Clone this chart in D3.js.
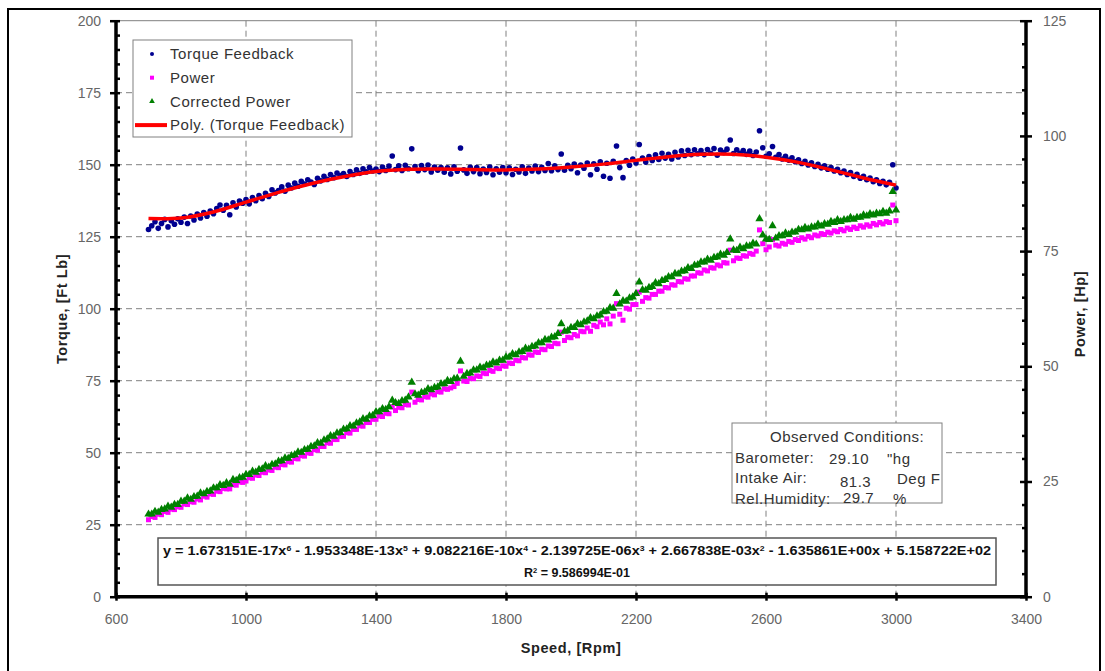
<!DOCTYPE html>
<html>
<head>
  <meta charset="utf-8">
  <title>Torque and Power vs Speed</title>
  <style>
    body { margin: 0; background: #fff; }
    svg { font-family: "Liberation Sans", Arial, sans-serif; }
  </style>
</head>
<body>
  <svg width="1105" height="671"></svg>
  <script src="https://d3js.org/d3.v7.min.js"></script>
  <script>
    var speedTicks = [600, 1000, 1400, 1800, 2200, 2600, 3000, 3400];
    var torqueTicks = [0, 25, 50, 75, 100, 125, 150, 175, 200];
    var powerTicks = [0, 25, 50, 75, 100, 125];

    var torque = [
      127.5, 128.8, 130.2, 127.9, 129.6, 131.0, 128.4, 130.5, 129.3, 131.2,
      130.0, 131.8, 129.6, 132.2, 130.8, 132.9, 131.5, 133.4, 132.1, 133.9,
      133.0, 134.8, 136.0, 134.2, 135.9, 132.6, 136.8, 135.3, 137.4, 136.6,
      137.9, 136.4, 138.6, 137.5, 139.3, 138.2, 140.1, 139.0, 141.3, 140.2,
      141.0, 142.3, 140.8, 142.9, 141.9, 143.6, 142.5, 144.2, 143.3, 144.8,
      144.0, 143.1, 145.3, 144.4, 146.0, 144.9, 146.6, 145.5, 147.1, 146.2,
      146.9, 145.9, 147.6, 146.6, 148.2, 147.0, 148.6, 147.5, 149.0, 147.8,
      148.5, 147.6, 149.2, 148.0, 149.5, 153.0, 148.3, 149.6, 148.0, 149.8,
      148.6, 155.5, 149.4, 147.9, 149.7, 148.3, 149.9, 147.5, 149.2, 148.1,
      149.0, 147.4, 148.9, 146.8, 149.3, 147.7, 155.8, 148.2, 147.0, 149.1,
      147.6, 149.0, 146.9, 148.5, 147.3, 149.2, 146.5, 148.6, 147.4, 149.0,
      147.2, 148.9, 146.6, 148.4, 147.5, 149.3, 147.0, 148.8, 147.8, 149.5,
      147.6, 149.1, 148.0, 150.4, 147.9, 149.6, 148.3, 153.7, 148.1, 149.8,
      148.6, 150.2, 147.2, 149.9, 148.8, 150.6, 146.5, 150.3, 148.4, 151.0,
      146.0, 150.5, 145.3, 151.2, 156.5, 149.0, 145.5, 151.4, 149.8, 152.0,
      150.6, 157.0, 152.3, 150.9, 152.8, 151.5, 153.4, 151.8, 154.0, 152.3,
      153.6, 152.0, 154.3, 152.7, 154.8, 153.2, 155.0, 153.5, 155.2, 153.8,
      154.9, 153.5, 155.3, 154.0, 155.6, 153.3, 155.1, 154.2, 155.4, 158.6,
      153.9, 155.2, 154.0, 154.9, 153.6, 154.7, 153.2, 154.4, 161.8, 155.9,
      152.9, 153.8, 156.3, 152.6, 153.5, 152.0, 152.9, 151.6, 152.4, 151.0,
      151.7, 150.4, 151.2, 149.9, 150.7, 149.4, 150.1, 148.9, 149.6, 148.4,
      149.0, 147.8, 148.4, 147.2, 147.8, 146.6, 147.3, 145.9, 146.7, 145.3,
      146.0, 144.8, 145.4, 144.1, 144.8, 143.5, 144.2, 143.0, 143.9, 150.0,
      141.9
    ];

    var power = [
      16.7, 17.4, 17.2, 17.9, 17.8, 18.5, 18.3, 19.0, 18.9, 19.5,
      19.4, 20.1, 20.0, 20.6, 20.5, 21.2, 21.0, 21.8, 21.6, 22.3,
      22.2, 22.9, 22.8, 23.5, 23.4, 23.4, 24.3, 24.2, 24.9, 24.8,
      25.1, 25.8, 25.7, 26.4, 26.3, 27.0, 26.9, 27.5, 27.4, 28.1,
      28.0, 28.7, 28.6, 29.3, 29.2, 30.0, 29.9, 30.6, 30.5, 31.2,
      31.1, 31.9, 31.8, 32.6, 32.6, 33.4, 33.3, 34.1, 34.1, 34.8,
      34.8, 35.6, 35.5, 36.3, 36.3, 37.1, 37.0, 37.8, 37.8, 38.5,
      38.5, 39.2, 39.1, 39.8, 39.7, 41.2, 40.4, 41.1, 41.0, 41.7,
      41.6, 44.4, 42.2, 42.8, 42.7, 43.4, 43.3, 44.0, 43.8, 44.5,
      44.4, 45.1, 45.0, 45.3, 45.6, 46.3, 49.0, 46.8, 46.7, 47.4,
      47.3, 47.9, 47.8, 48.5, 48.4, 49.1, 48.9, 49.6, 49.5, 50.1,
      50.0, 50.7, 50.6, 51.3, 51.2, 51.9, 51.8, 52.5, 52.4, 53.1,
      53.0, 53.7, 53.6, 54.4, 54.3, 55.0, 54.9, 57.4, 55.6, 56.3,
      56.2, 56.9, 56.6, 57.6, 57.5, 58.3, 57.6, 58.9, 58.6, 59.6,
      59.0, 60.3, 59.2, 60.9, 63.6, 61.3, 60.0, 62.6, 62.4, 63.4,
      63.4, 66.1, 64.1, 64.9, 64.8, 65.6, 65.6, 66.3, 66.3, 67.1,
      67.0, 67.7, 67.6, 68.4, 68.3, 69.0, 68.9, 69.6, 69.6, 70.3,
      70.2, 70.9, 70.7, 71.4, 71.3, 72.0, 71.8, 72.5, 72.4, 75.2,
      72.9, 73.5, 73.4, 74.0, 73.9, 74.5, 74.3, 75.0, 79.6, 76.6,
      75.3, 75.9, 77.5, 76.3, 76.1, 76.7, 76.5, 77.1, 76.9, 77.5,
      77.3, 77.9, 77.6, 78.2, 77.9, 78.5, 78.3, 78.8, 78.6, 79.1,
      78.9, 79.4, 79.2, 79.7, 79.4, 80.0, 79.7, 80.2, 79.9, 80.5,
      80.2, 80.7, 80.4, 81.0, 80.7, 81.2, 80.9, 81.4, 81.2, 85.0,
      81.6
    ];

    var correctedPower = [
      17.9, 17.9, 18.5, 18.3, 18.9, 19.0, 19.6, 19.4, 20.0, 20.0,
      20.7, 20.7, 21.4, 21.1, 21.7, 21.8, 22.5, 22.3, 22.8, 22.9,
      23.6, 23.6, 24.3, 24.1, 24.7, 24.4, 25.4, 25.2, 25.8, 25.9,
      26.5, 26.5, 27.2, 27.0, 27.6, 27.7, 28.4, 28.1, 28.7, 28.8,
      29.4, 29.5, 30.1, 30.0, 30.6, 30.8, 31.4, 31.3, 31.9, 32.0,
      32.6, 32.7, 33.4, 33.3, 34.0, 34.2, 34.9, 34.8, 35.5, 35.6,
      36.3, 36.4, 37.1, 37.0, 37.7, 37.9, 38.6, 38.5, 39.2, 39.3,
      40.1, 40.1, 40.8, 40.6, 41.2, 42.6, 42.1, 41.9, 42.5, 42.6,
      43.3, 46.5, 44.0, 43.7, 44.3, 44.4, 45.1, 44.9, 45.4, 45.5,
      46.2, 46.2, 46.9, 46.7, 47.3, 47.4, 51.1, 47.8, 48.4, 48.5,
      49.2, 49.2, 49.8, 49.6, 50.2, 50.3, 50.9, 50.7, 51.3, 51.3,
      52.0, 52.0, 52.7, 52.5, 53.1, 53.2, 53.9, 53.7, 54.3, 54.4,
      55.1, 55.1, 55.8, 55.7, 56.3, 56.4, 57.1, 59.2, 57.6, 57.7,
      58.4, 58.4, 59.2, 59.0, 59.6, 59.8, 60.5, 60.3, 60.9, 61.1,
      61.8, 61.9, 62.7, 62.6, 65.8, 63.5, 64.2, 64.1, 64.8, 65.0,
      65.8, 68.3, 66.6, 66.5, 67.1, 67.3, 68.1, 67.9, 68.6, 68.8,
      69.4, 69.4, 70.1, 70.0, 70.6, 70.7, 71.4, 71.2, 71.9, 72.0,
      72.6, 72.6, 73.2, 73.0, 73.6, 73.7, 74.3, 74.1, 74.7, 77.6,
      75.2, 75.1, 75.8, 75.5, 76.1, 76.1, 76.7, 76.5, 82.0, 78.5,
      77.6, 77.5, 80.5, 77.8, 78.3, 78.3, 78.9, 78.6, 79.1, 79.1,
      79.7, 79.6, 80.1, 79.8, 80.2, 80.2, 80.8, 80.4, 80.9, 80.8,
      81.4, 81.2, 81.8, 81.4, 81.8, 81.8, 82.3, 81.9, 82.3, 82.3,
      82.8, 82.6, 83.1, 82.8, 83.2, 83.1, 83.6, 83.2, 83.7, 87.9,
      83.9
    ];

    // polynomial trend line as it sits on the chart, every 100 rpm
    var trendSpeed = [700, 800, 900, 1000, 1100, 1200, 1300, 1400, 1500, 1600, 1700, 1800,
      1900, 2000, 2100, 2200, 2300, 2400, 2500, 2600, 2700, 2800, 2900, 3000];
    var trendTorque = [131.3, 131.5, 133.6, 137.0, 140.4, 143.4, 145.8, 147.6, 148.4, 148.5, 148.3, 148.2,
      148.5, 149.2, 150.2, 151.5, 152.8, 153.6, 153.6, 152.6, 150.8, 148.2, 145.4, 142.9];

    var legendItems = ["Torque Feedback", "Power", "Corrected Power", "Poly. (Torque Feedback)"];

    var speeds = d3.range(700, 3001, 10);

    var svg = d3.select("svg");

    var x = d3.scaleLinear().domain([600, 3400]).range([116, 1026]);
    var yT = d3.scaleLinear().domain([0, 200]).range([596.7, 20.7]);
    var yP = d3.scaleLinear().domain([0, 125]).range([596.7, 20.7]);

    // outer frame
    svg.append("rect")
      .attr("x", 8).attr("y", 9)
      .attr("width", 1092).attr("height", 680)
      .attr("fill", "none")
      .attr("stroke", "#000")
      .attr("stroke-width", 2);

    // grid
    var grid = svg.append("g");
    grid.selectAll(".hg")
      .data(torqueTicks.slice(1, -1))
      .enter().append("line")
      .attr("x1", x(600)).attr("x2", x(3400))
      .attr("y1", function (d) { return yT(d); })
      .attr("y2", function (d) { return yT(d); })
      .attr("stroke", "#808080")
      .attr("stroke-dasharray", "6,4");
    grid.selectAll(".vg")
      .data(speedTicks.slice(1, -1))
      .enter().append("line")
      .attr("y1", yT(200)).attr("y2", yT(0))
      .attr("x1", function (d) { return x(d); })
      .attr("x2", function (d) { return x(d); })
      .attr("stroke", "#808080")
      .attr("stroke-dasharray", "6,4");
    grid.append("line")
      .attr("x1", x(600)).attr("x2", x(3400))
      .attr("y1", yT(200)).attr("y2", yT(200))
      .attr("stroke", "#808080");

    // series
    var pts = svg.append("g");
    pts.selectAll(".tq")
      .data(torque)
      .enter().append("circle")
      .attr("cx", function (d, i) { return x(speeds[i]); })
      .attr("cy", function (d) { return yT(d); })
      .attr("r", 2.8)
      .attr("fill", "#000090");

    pts.selectAll(".pw")
      .data(power)
      .enter().append("rect")
      .attr("x", function (d, i) { return x(speeds[i]) - 2.5; })
      .attr("y", function (d) { return yP(d) - 2.5; })
      .attr("width", 5).attr("height", 5)
      .attr("fill", "#ff00ff");

    var tri = d3.symbol().type(d3.symbolTriangle).size(30);
    pts.selectAll(".cp")
      .data(correctedPower)
      .enter().append("path")
      .attr("d", tri)
      .attr("transform", function (d, i) { return "translate(" + x(speeds[i]) + "," + yP(d) + ")"; })
      .attr("fill", "#008000");

    var trendLine = d3.line()
      .x(function (d, i) { return x(trendSpeed[i]); })
      .y(function (d) { return yT(d); })
      .curve(d3.curveCatmullRom);
    svg.append("path")
      .datum(trendTorque)
      .attr("d", trendLine)
      .attr("fill", "none")
      .attr("stroke", "#ff0000")
      .attr("stroke-width", 3.5);

    // axes
    var fmt = d3.format("d");
    function styleAxis(g) {
      g.select(".domain").remove();
      g.selectAll("line").attr("stroke", "#000").attr("stroke-width", 2.5);
      g.selectAll("text").attr("fill", "#666").style("font-size", "14px");
    }

    var minorT = d3.range(0, 201, 5).filter(function (d) { return d % 25; });
    var minorP = d3.range(0, 126, 5).filter(function (d) { return d % 25; });

    var leftAx = svg.append("g").attr("transform", "translate(" + x(600) + ",0)")
      .call(d3.axisLeft(yT).tickValues(torqueTicks).tickFormat(fmt).tickSize(5).tickPadding(10))
      .call(styleAxis);
    leftAx.selectAll(".tick line").attr("x2", -6).attr("x1", 4);
    svg.append("g").attr("transform", "translate(" + x(600) + ",0)")
      .call(d3.axisRight(yT).tickValues(minorT).tickSize(4).tickFormat(""))
      .call(styleAxis);

    var rightAx = svg.append("g").attr("transform", "translate(" + x(3400) + ",0)")
      .call(d3.axisRight(yP).tickValues(powerTicks).tickFormat(fmt).tickSize(5).tickPadding(12))
      .call(styleAxis);
    rightAx.selectAll(".tick line").attr("x1", -6).attr("x2", 6);
    svg.append("g").attr("transform", "translate(" + x(3400) + ",0)")
      .call(d3.axisLeft(yP).tickValues(minorP).tickSize(4).tickFormat(""))
      .call(styleAxis);

    var bottomAx = svg.append("g").attr("transform", "translate(0," + yT(0) + ")")
      .call(d3.axisBottom(x).tickValues(speedTicks).tickFormat(fmt).tickSize(4).tickPadding(13))
      .call(styleAxis);
    bottomAx.selectAll(".tick line").attr("y1", -4);

    // axis lines
    svg.append("line").attr("x1", x(600)).attr("x2", x(600)).attr("y1", yT(200)).attr("y2", yT(0) + 1)
      .attr("stroke", "#000").attr("stroke-width", 3.5);
    svg.append("line").attr("x1", x(3400)).attr("x2", x(3400)).attr("y1", yT(200)).attr("y2", yT(0) + 1)
      .attr("stroke", "#000").attr("stroke-width", 3.5);
    svg.append("line").attr("x1", x(600) - 1).attr("x2", x(3400) + 1).attr("y1", yT(0)).attr("y2", yT(0))
      .attr("stroke", "#000").attr("stroke-width", 3.5);

    // axis titles
    function title(sel) {
      sel.attr("text-anchor", "middle")
        .attr("font-weight", "bold")
        .attr("font-size", 14.5)
        .attr("letter-spacing", 0.6)
        .attr("fill", "#222");
    }
    svg.append("text")
      .attr("transform", "translate(67,309)rotate(-90)")
      .call(title)
      .text("Torque, [Ft Lb]");
    svg.append("text")
      .attr("transform", "translate(1085,314)rotate(-90)")
      .call(title)
      .text("Power, [Hp]");
    svg.append("text")
      .attr("x", 571).attr("y", 653)
      .call(title)
      .text("Speed, [Rpm]");

    // legend
    var legend = svg.append("g").attr("transform", "translate(133,40)");
    legend.append("rect")
      .attr("width", 219).attr("height", 97)
      .attr("fill", "#fff")
      .attr("stroke", "#808080");
    var li = legend.selectAll(".li")
      .data(legendItems)
      .enter().append("g")
      .attr("transform", function (d, i) { return "translate(0," + (14 + i * 23.7) + ")"; });
    li.append("text")
      .attr("x", 37).attr("dy", "0.35em")
      .attr("font-size", 15)
      .attr("letter-spacing", 0.55)
      .attr("fill", "#333")
      .text(function (d) { return d; });
    li.filter(function (d, i) { return i === 0; }).append("circle")
      .attr("cx", 19).attr("r", 2).attr("fill", "#000090");
    li.filter(function (d, i) { return i === 1; }).append("rect")
      .attr("x", 17).attr("y", -2).attr("width", 4).attr("height", 4).attr("fill", "#ff00ff");
    li.filter(function (d, i) { return i === 2; }).append("path")
      .attr("d", d3.symbol().type(d3.symbolTriangle).size(14))
      .attr("transform", "translate(19,0)")
      .attr("fill", "#008000");
    li.filter(function (d, i) { return i === 3; }).append("line")
      .attr("x1", 2).attr("x2", 34)
      .attr("stroke", "#ff0000").attr("stroke-width", 4);

    // observed conditions box
    var cond = svg.append("g").attr("transform", "translate(732,423)");
    cond.append("rect")
      .attr("width", 210).attr("height", 80)
      .attr("fill", "#fff").attr("stroke", "#808080");
    var condText = [
      ["Observed Conditions:", 38, 14],
      ["Barometer:", 3, 35], ["29.10", 97, 36], ["\"hg", 155, 36],
      ["Intake Air:", 3, 55], ["81.3", 108, 59], ["Deg F", 165, 56],
      ["Rel.Humidity:", 3, 76], ["29.7", 111, 75], ["%", 161, 76]
    ];
    cond.selectAll(".ct")
      .data(condText)
      .enter().append("text")
      .attr("x", function (d) { return d[1]; })
      .attr("y", function (d) { return d[2]; })
      .attr("dy", "0.35em")
      .attr("font-size", 15)
      .attr("letter-spacing", 0.5)
      .attr("fill", "#333")
      .text(function (d) { return d[0]; });

    // trendline equation box
    var eq = svg.append("g").attr("transform", "translate(158,538)");
    eq.append("rect")
      .attr("width", 838).attr("height", 47)
      .attr("fill", "#fff").attr("stroke", "#555").attr("stroke-width", 1.5);
    var eqTerms = [
      ["y = 1.673151E-17x", "6"], [" - 1.953348E-13x", "5"], [" + 9.082216E-10x", "4"],
      [" - 2.139725E-06x", "3"], [" + 2.667838E-03x", "2"], [" - 1.635861E+00x + 5.158722E+02", ""]
    ];
    var l1 = eq.append("text")
      .attr("x", 419).attr("y", 13).attr("dy", "0.35em")
      .attr("text-anchor", "middle")
      .attr("font-size", 12.5).attr("font-weight", "bold")
      .attr("textLength", 828).attr("lengthAdjust", "spacingAndGlyphs")
      .attr("fill", "#111");
    eqTerms.forEach(function (t) {
      l1.append("tspan").text(t[0]);
      if (t[1]) {
        l1.append("tspan").attr("baseline-shift", "super").attr("font-size", 7.5).text(t[1]);
      }
    });
    var l2 = eq.append("text")
      .attr("x", 419).attr("y", 35).attr("dy", "0.35em")
      .attr("text-anchor", "middle")
      .attr("font-size", 12.5).attr("font-weight", "bold")
      .attr("fill", "#111");
    l2.append("tspan").text("R");
    l2.append("tspan").attr("baseline-shift", "super").attr("font-size", 7.5).text("2");
    l2.append("tspan").text(" = 9.586994E-01");
  </script>
</body>
</html>
